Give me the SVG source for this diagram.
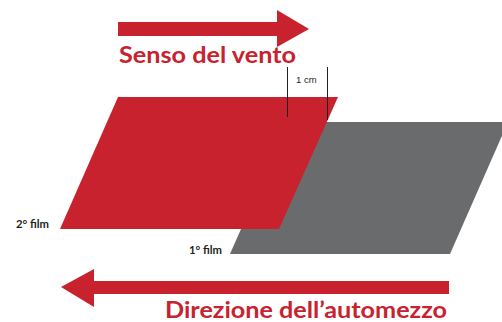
<svg xmlns="http://www.w3.org/2000/svg" width="502" height="322" viewBox="0 0 502 322">
<style>
.red{fill:#C8222F}
.big{font-family:"Lato","Open Sans",sans-serif;font-weight:bold;font-size:22px;fill:#C8222F}
.lbl{font-family:"Lato","Liberation Sans",sans-serif;font-weight:bold;font-size:11px;fill:#231F20}
.tick{stroke:#231F20;stroke-width:1}
</style>
<rect width="502" height="322" fill="#fff"/>
<g id="film1"><polygon points="288,122 508,122 450,254 230,254" fill="#6A6B6D"/>
<text class="lbl" x="189" y="254" textLength="33" lengthAdjust="spacingAndGlyphs">1° film</text></g>
<g id="film2"><polygon points="118,97 338,97 279,229 60,229" class="red"/>
<text class="lbl" x="16" y="228" textLength="33" lengthAdjust="spacingAndGlyphs">2° film</text></g>
<g id="measure">
<line class="tick" x1="287.5" y1="67" x2="287.5" y2="117"/>
<line class="tick" x1="327.5" y1="67" x2="327.5" y2="120"/>
<text x="296" y="83" font-family="Liberation Sans,sans-serif" font-size="9.5" fill="#231F20">1 cm</text>
</g>
<g id="connectors">
<polygon id="wind" class="red" points="118,22 277,22 277,10 309,29 277,47 277,36 118,36"/>
<polygon id="vehicle" class="red" points="449,281 94,281 94,269 61,287 94,307 94,294 449,294"/>
</g>
<g id="labels">
<text class="big" x="119" y="63" textLength="177" lengthAdjust="spacingAndGlyphs">Senso del vento</text>
<text class="big" x="165" y="318" textLength="282" lengthAdjust="spacingAndGlyphs">Direzione dell’automezzo</text>
</g>
</svg>
